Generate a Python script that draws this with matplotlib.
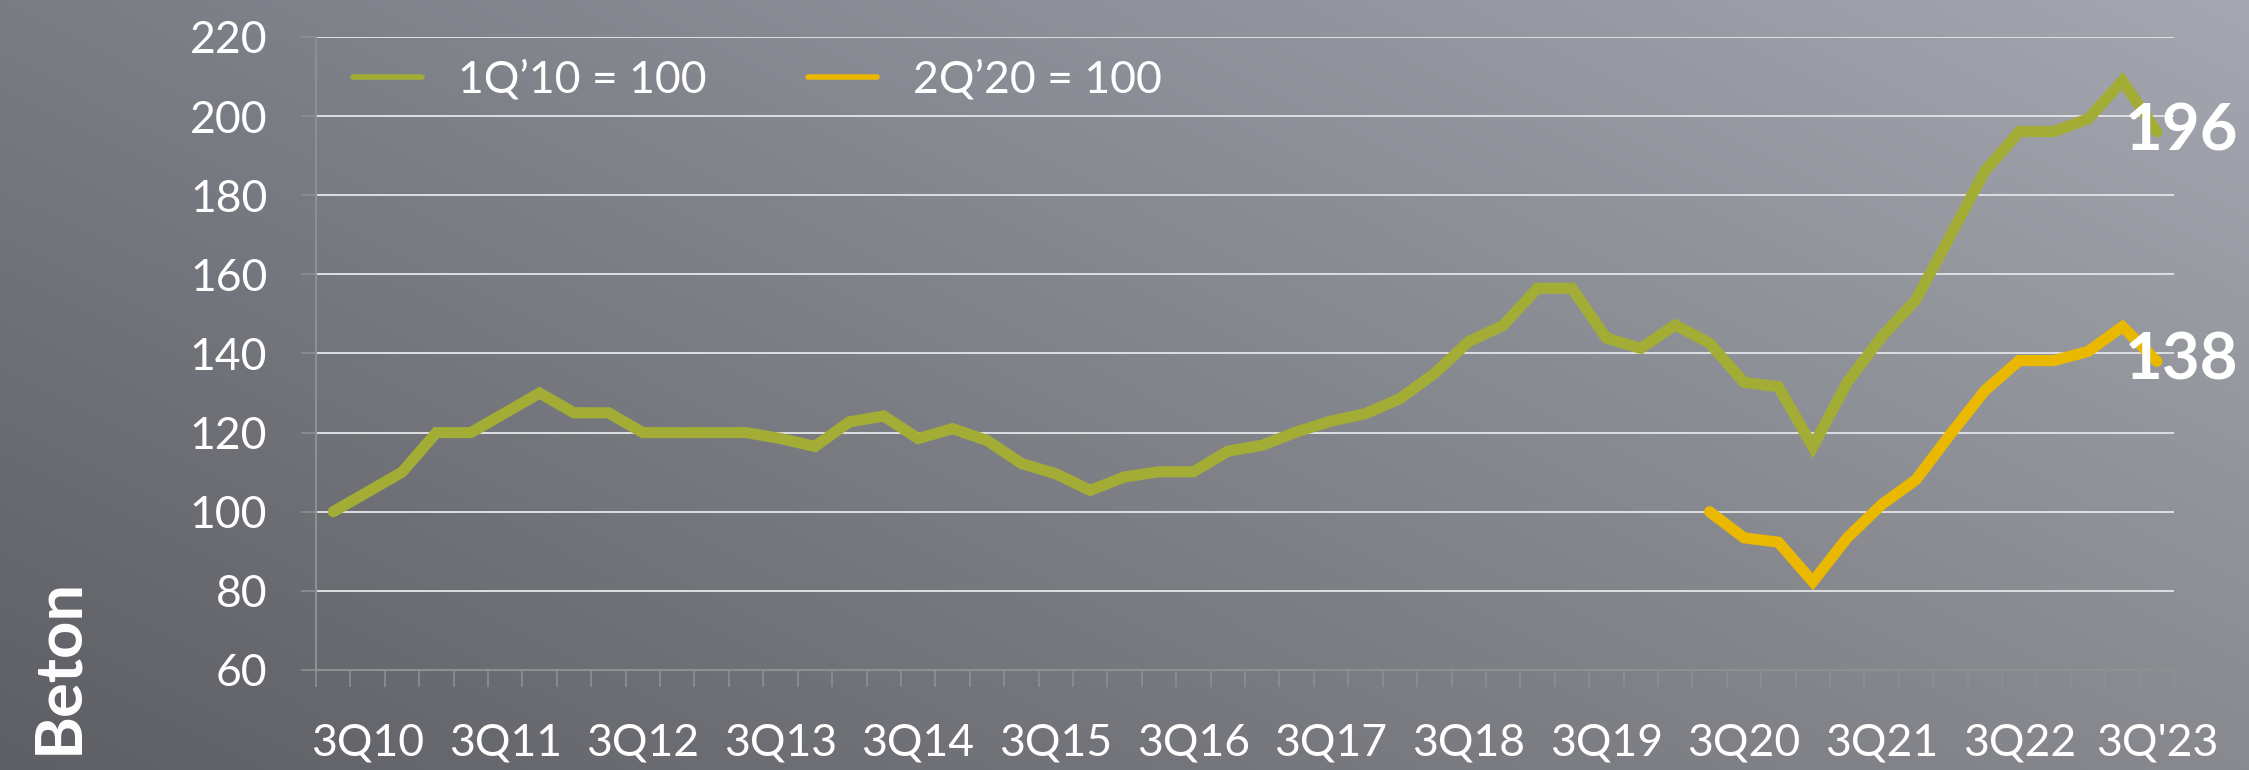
import numpy as np
import matplotlib
matplotlib.use('Agg')
import matplotlib.pyplot as plt
from matplotlib.ticker import MultipleLocator, FixedLocator

# quarterly index, 2Q10 .. 3Q23
beton_2010 = [100, 105, 110, 120, 120, 125, 130, 125, 125, 120,
              120, 120, 120, 118.5, 116.5, 122.7, 124.2, 118.5, 121, 118,
              112.2, 109.6, 105.4, 108.8, 110.1, 110.1, 115.3, 116.8, 120.2, 122.9,
              124.8, 128.6, 134.9, 143, 147.1, 156.5, 156.5, 143.9, 141.3, 147.2,
              142.6, 132.7, 131.6, 116.4, 132.7, 144.2, 153.6, 169.8, 186.1, 196.1,
              196.1, 199.3, 208.9, 196]
beton_2020 = [100, 93.4, 92.3, 82.3, 93.4, 101.8, 108.1, 119.6, 130.6, 138.2,
              138.2, 140.5, 146.8, 138]
start_2020 = 40
x_labels = ['3Q10', '3Q11', '3Q12', '3Q13', '3Q14', '3Q15', '3Q16',
            '3Q17', '3Q18', '3Q19', '3Q20', '3Q21', '3Q22', "3Q'23"]
legend_labels = ['1Q’10 = 100', '2Q’20 = 100']
end_labels = ['196', '138']

green = '#a3ad36'
yellow = '#ebb800'
grey = '#8e8f93'

plt.rcParams['font.family'] = ['Lato', 'DejaVu Sans']

fig = plt.figure(figsize=(22.49, 7.70), dpi=100)

# background gradient
bg = fig.add_axes([0, 0, 1, 1])
tl = np.array([0x7a, 0x7c, 0x84]) / 255
tr = np.array([0xa4, 0xa7, 0xb0]) / 255
bl = np.array([0x5e, 0x5f, 0x64]) / 255
br = np.array([0x88, 0x8a, 0x8f]) / 255
u = np.linspace(0, 1, 300)[None, :, None]
v = np.linspace(0, 1, 100)[:, None, None]
img = (1 - v) * ((1 - u) * tl + u * tr) + v * ((1 - u) * bl + u * br)
bg.imshow(img, aspect='auto', extent=[0, 1, 0, 1], interpolation='bilinear')
bg.axis('off')

ax = fig.add_axes([0.1405, 0.1299, 0.8262, 0.8221])
ax.patch.set_alpha(0)

xs = np.arange(len(beton_2010))
xs2 = np.arange(start_2020, start_2020 + len(beton_2020))
ax.plot(xs, beton_2010, color=green, lw=8, solid_joinstyle='miter',
        solid_capstyle='round', label=legend_labels[0], zorder=3)
ax.plot(xs2, beton_2020, color=yellow, lw=8, solid_joinstyle='miter',
        solid_capstyle='round', label=legend_labels[1], zorder=3)

ax.set_xlim(-0.5, len(beton_2010) - 0.5)
ax.set_ylim(60, 220)
ax.yaxis.set_major_locator(MultipleLocator(20))
ax.grid(axis='y', color='#dedfe2', lw=1.4)
ax.set_axisbelow(True)

ax.xaxis.set_major_locator(FixedLocator(np.arange(1, len(beton_2010), 4)))
ax.set_xticklabels(x_labels)
ax.xaxis.set_minor_locator(FixedLocator(np.arange(-0.5, len(beton_2010), 1)))
ax.tick_params(axis='x', which='major', length=0, pad=38, labelsize=32,
               labelcolor='white')
ax.tick_params(axis='x', which='minor', length=12, width=1.2, color=grey)
ax.tick_params(axis='y', length=11, width=1.2, color=grey, pad=24,
               labelsize=32, labelcolor='white')

for s in ['top', 'right']:
    ax.spines[s].set_visible(False)
for s in ['left', 'bottom']:
    ax.spines[s].set_color(grey)
    ax.spines[s].set_linewidth(1.5)

for vals, xx, txt in [(beton_2010, xs, end_labels[0]), (beton_2020, xs2, end_labels[1])]:
    ax.annotate(txt, (xx[-1], vals[-1]), xytext=(-23, 0), textcoords='offset points',
                ha='left', va='center', color='white', fontsize=47,
                fontweight='bold', zorder=5, annotation_clip=False)

leg = fig.legend(loc='center left', bbox_to_anchor=(0.157, 0.896), ncol=2,
                 frameon=False, fontsize=32, handlelength=1.55, handletextpad=0.8,
                 columnspacing=2.3, borderpad=0, borderaxespad=0)
for h in leg.get_lines():
    h.set_linewidth(4)
for t in leg.get_texts():
    t.set_color('white')

fig.text(0.026, 0.135, 'Beton', rotation=90, ha='center', va='center',
         color='white', fontsize=47, fontweight='bold')

fig.savefig('out.png', dpi=100)
